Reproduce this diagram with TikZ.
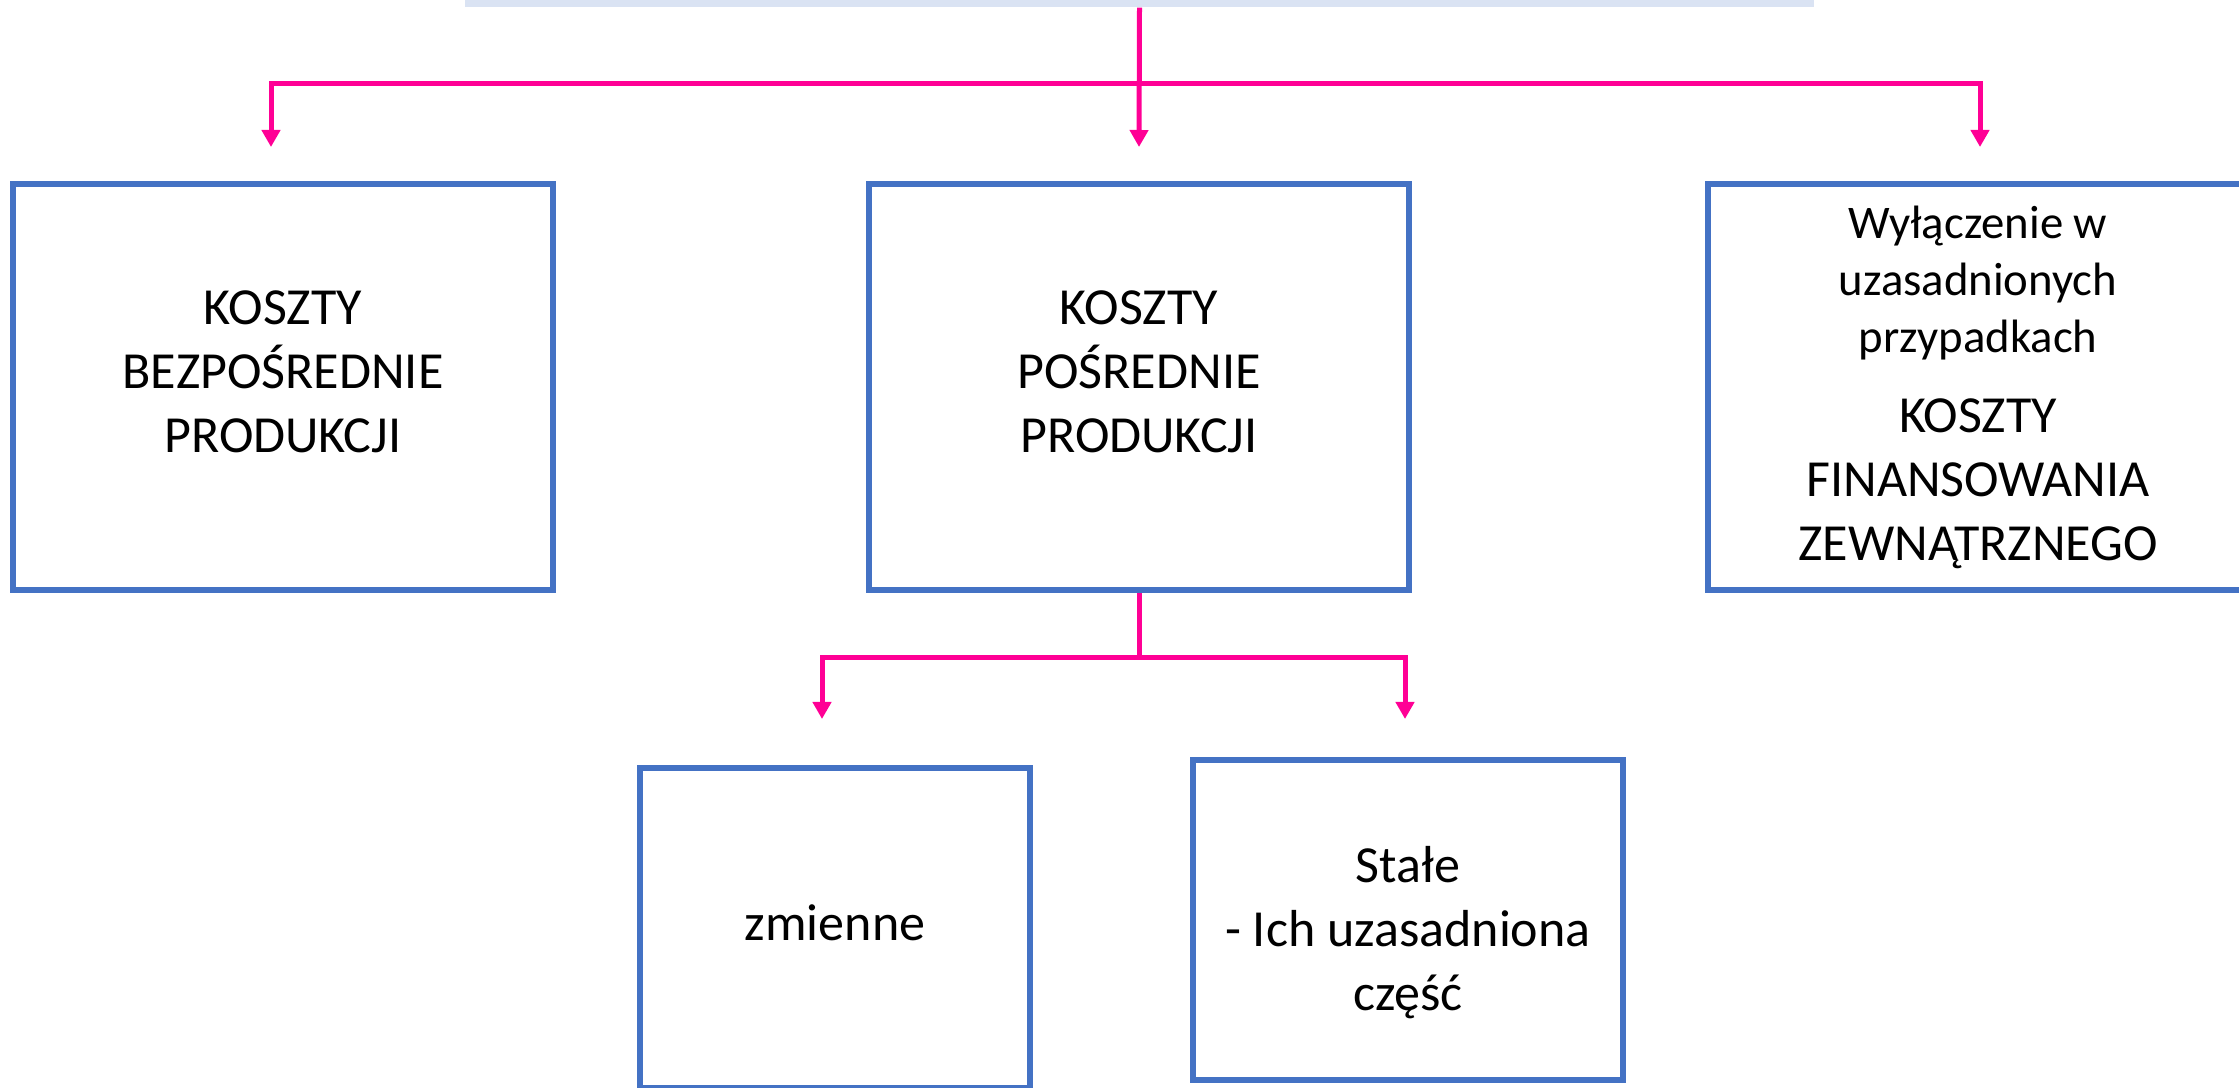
\documentclass[tikz,border=0pt]{standalone}
\usepackage{fontspec}
\setmainfont{Carlito}
\usetikzlibrary{arrows.meta}
\definecolor{boxblue}{HTML}{4472C4}
\definecolor{linkpink}{HTML}{FF0095}
\definecolor{barblue}{HTML}{DAE3F3}
\newcommand{\duzy}{\fontsize{14.8}{18.2}\selectfont}
\newcommand{\maly}{\fontsize{13.3}{16}\selectfont}

\begin{document}
\begin{tikzpicture}[x=0.01cm, y=-0.01cm, >={Triangle[width=0.18cm, length=0.17cm]},
    main/.style = {draw=boxblue, line width=0.06cm, minimum width=5.4cm, minimum height=4.06cm, align=center, font=\duzy, text depth=0pt},
    link/.style = {draw=linkpink, line width=0.05cm, ->},
    bar/.style = {fill=barblue, minimum width=13.49cm, minimum height=0.54cm, inner sep=0pt}]
    \useasboundingbox (0,0) rectangle (2239,1088);
    % Nodes
    \node[bar] (0) at (1139.5,-20) {};
    \node[main, text height=1.3cm] (1) at (283,387) {KOSZTY\\BEZPOŚREDNIE\\PRODUKCJI};
    \node[main, text height=1.3cm] (2) at (1139,387) {KOSZTY\\POŚREDNIE\\PRODUKCJI};
    \node[main, text height=3.46cm] (3) at (1978,387) {{\maly Wyłączenie w}\\[-0.07cm]{\maly uzasadnionych}\\[-0.07cm]{\maly przypadkach}\\[0.16cm]KOSZTY\\FINANSOWANIA\\ZEWNĄTRZNEGO};
    \node[main, text height=0.24cm, minimum width=3.89cm, minimum height=3.2cm] (4) at (835,928) {zmienne};
    \node[main, text height=1.8cm, minimum width=4.29cm, minimum height=3.19cm] (5) at (1408,920) {Stałe\\- Ich uzasadniona\\część};

    \coordinate (j1) at (1139,84);
    \coordinate (t1) at (271,147);
    \coordinate (t2) at (1139,147);
    \coordinate (t3) at (1980,147);
    \coordinate (j2) at (1139,657);
    \coordinate (t4) at (822,719);
    \coordinate (t5) at (1405,719);

    % Edges
    \draw[link] (0.south) -- (t2);
    \draw[link] (j1) -| (t1);
    \draw[link] (j1) -| (t3);
    \draw[link] (2.south) -- (j2) -| (t4);
    \draw[link] (j2) -| (t5);
\end{tikzpicture}
\end{document}
